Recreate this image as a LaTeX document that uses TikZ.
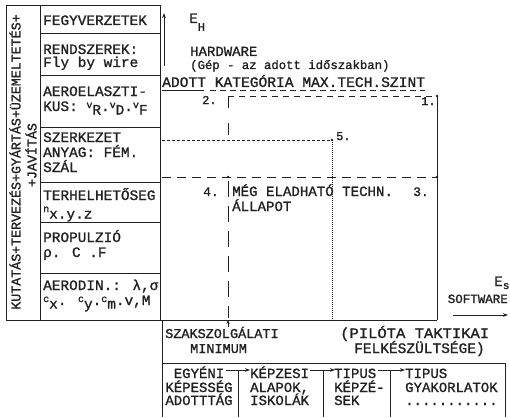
\documentclass[tikz,border=0pt]{standalone}
\usepackage{fontspec}
\usepackage{graphicx}
\usetikzlibrary{arrows.meta}
\setmainfont{Liberation Mono}[FakeBold=1.2]
\definecolor{ink}{gray}{0.13}
\newcommand\fsz[1]{\fontsize{#1}{#1}\selectfont}
\newcommand\hi[1]{\raisebox{3pt}{\fontsize{10}{10}\selectfont #1}}
\newcommand\lo[1]{\raisebox{-3.5pt}{#1}}
\begin{document}
\begin{tikzpicture}[x=1pt,y=-1pt,
  ln/.style={draw=ink,line width=0.8pt},
  tx/.style={anchor=base west,inner sep=0pt,text=ink,font=\fsz{14.4}},
  txc/.style={anchor=base,inner sep=0pt,text=ink,font=\fsz{14}},
  vtx/.style={rotate=90,inner sep=0pt,text=ink,font=\fsz{13.3}},
  dotpt/.style={circle,fill=ink,inner sep=0pt,minimum size=2.6pt},
  tip/.style={-{Stealth[length=5pt,width=3.6pt]}}]
\useasboundingbox (0,0) rectangle (510,417);
\fill[white] (0,0) rectangle (510,417);
% ---------- left box stack ----------
\coordinate (bTL) at (6,5);
\coordinate (bBR) at (160,320);
\draw[ln] (bTL) rectangle (bBR);
\coordinate (cT) at (40,5); \coordinate (cB) at (40,320);
\draw[ln] (cT) -- (cB);
\foreach \y [count=\i] in {33,75,127,182,222,273}{
  \coordinate (hl\i) at (40,\y); \coordinate (hr\i) at (160,\y);
  \draw[ln] (hl\i) -- (hr\i);}
\node[vtx] (vt1) at (15,162) {KUTATÁS+TERVEZÉS+GYÁRTÁS+ÜZEMELTETÉS+};
\node[vtx] (vt2) at (31,155) {+JAVÍTÁS};
\node[tx] (l1)  at (43,25)  {FEGYVERZETEK};
\node[tx] (l2a) at (43,54)  {RENDSZEREK:};
\node[tx] (l2b) at (43,67)  {Fly by wire};
\node[tx] (l3a) at (43,96)  {AEROELASZTI-};
\node[tx] (l3b) at (43,111) {KUS: \hi{v}\lo{R}.\hi{v}\lo{D}.\hi{v}\lo{F}};
\node[tx] (l4a) at (43,142) {SZERKEZET};
\node[tx] (l4b) at (43,157) {ANYAG:  FÉM.};
\node[tx] (l4c) at (43,172) {SZÁL};
\node[tx] (l5a) at (43,200) {TERHELHETŐSEG};
\node[tx] (l5b) at (43,215) {\hi{n}\lo{x.y.z}};
\node[tx] (l6a) at (43,242) {PROPULZIÓ};
\node[tx] (l6b) at (43,257) {ρ. C .F};
\node[tx] (l7a) at (43,290) {AERODIN.: λ,σ};
\node[tx] (l7b) at (43,305) {\hi{c}\lo{x}. \hi{c}\lo{y}.\hi{c}\lo{m}.v,M};
% ---------- axes ----------
\coordinate (ehA) at (164,66); \coordinate (ehB) at (164,13);
\draw[ln,tip] (ehA) -- (ehB);
\node[tx] (eH) at (189,23) {E\raisebox{-8pt}{\fsz{12}H}};
\node[tx,font=\fsz{14}] (hw) at (190,56) {HARDWARE};
\node[tx,font=\fsz{12.3}] (gep) at (190,69) {(Gép - az adott időszakban)};
\node[tx,font=\fsz{14.6}] (title) at (162,87) {ADOTT KATEGÓRIA MAX.TECH.SZINT};
\coordinate (u0) at (162,90); \coordinate (u1) at (204,90);
\coordinate (u2) at (210,90); \coordinate (u3) at (425,90);
\draw[ln] (u0) -- (u1);
\draw[ln,dash pattern=on 6pt off 4pt] (u2) -- (u3);
% chart lines
\coordinate (c2) at (228,96); \coordinate (c1) at (437,96);
\coordinate (c2b) at (228,140);
\coordinate (d1a) at (162,140); \coordinate (c5) at (332,140);
\coordinate (d2a) at (162,177); \coordinate (c4) at (228,177); \coordinate (c3) at (437,177);
\coordinate (c4b) at (228,318);
\coordinate (c5b) at (332,320);
\coordinate (bl0) at (160,320); \coordinate (bl1) at (437,320);
\draw[ln,dash pattern=on 6pt off 5pt] (c2) -- (c1);
\draw[ln] (c1) -- (bl1);
\draw[ln,dash pattern=on 12pt off 15pt] (c2) -- (c2b);
\draw[ln,dash pattern=on 3pt off 2pt] (d1a) -- (c5);
\draw[draw=ink,line width=0.5pt,dash pattern=on 1pt off 1pt] (c5) -- (c5b);
\draw[ln,dash pattern=on 9pt off 6pt] (d2a) -- (c3);
\draw[ln,dash pattern=on 16pt off 9pt,dash phase=-4pt] (c4) -- (c4b);
\draw[ln] (bl0) -- (bl1);
\node[dotpt] (p1) at (c1) {};
\node[dotpt] (p5) at (c5) {};
\node[dotpt] (p4) at (c4) {};
\node[dotpt] (p3) at (c3) {};
\node[tx,font=\fsz{12}] (n2) at (202,104) {2.};
\node[tx,font=\fsz{12}] (n1) at (421,105) {1.};
\node[tx,font=\fsz{12}] (n5) at (336,140) {5.};
\node[tx,font=\fsz{13}] (n4) at (203,196) {4.};
\node[tx,font=\fsz{13}] (n3) at (413,196) {3.};
\node[tx,font=\fsz{14.1}] (meg) at (232,196) {MÉG ELADHATÓ TECHN.};
\node[tx,font=\fsz{14.1}] (all) at (232,211) {ÁLLAPOT};
% software axis
\coordinate (esA) at (453,315); \coordinate (esB) at (508,315);
\draw[ln,tip] (esA) -- (esB);
\node[tx] (eS) at (494,286) {E\raisebox{-3pt}{\fsz{11}s}};
\node[anchor=base east,inner sep=0pt,text=ink,font=\fsz{12.5}] (sw) at (508,303) {SOFTWARE};
% ---------- lower area ----------
\coordinate (szA) at (228,327); \coordinate (szB) at (228,320);
\draw[ln,-{Stealth[length=4pt,width=3.4pt]}] (szA) -- (szB);
\coordinate (lf0) at (162,320); \coordinate (lf1) at (162,417);
\coordinate (lt0) at (162,363); \coordinate (lt1) at (505,363);
\coordinate (lr1) at (505,417);
\draw[ln] (lf0) -- (lf1);
\draw[ln] (lt0) -- (lt1) -- (lr1);
\node[tx,font=\fsz{13.5}] (szak) at (165,338) {SZAKSZOLGÁLATI};
\node[tx,font=\fsz{13.5}] (mini) at (190,353) {MINIMUM};
\node[tx,font=\fsz{14.5}] (pil) at (340,338) {\scalebox{1.07}[1]{(PILÓTA TAKTIKAI}};
\node[tx,font=\fsz{14.5}] (felk) at (354,353) {FELKÉSZÜLTSÉGE)};
\foreach \x [count=\i] in {238,323,390}{
  \coordinate (dv\i) at (\x,370); \coordinate (dw\i) at (\x,417);
  \draw[ln] (dv\i) -- (dw\i);}
\coordinate (a1s) at (226,370); \coordinate (a1e) at (250,370);
\coordinate (a2s) at (310,370); \coordinate (a2e) at (335,370);
\coordinate (a3s) at (378,370); \coordinate (a3e) at (405,370);
\draw[ln,tip] (a1s) -- (a1e);
\draw[ln,tip] (a2s) -- (a2e);
\draw[ln,tip] (a3s) -- (a3e);
\node[txc] (k1a) at (199,378) {EGYÉNI};
\node[txc] (k1b) at (199,392) {KÉPESSÉG};
\node[txc] (k1c) at (199,405) {ADOTTTÁG};
\node[tx,font=\fsz{14}] (k2a) at (250,378) {KÉPZESI};
\node[tx,font=\fsz{14}] (k2b) at (250,392) {ALAPOK,};
\node[tx,font=\fsz{14}] (k2c) at (250,405) {ISKOLÁK};
\node[tx,font=\fsz{14}] (k3a) at (334,378) {TIPUS};
\node[tx,font=\fsz{14}] (k3b) at (334,392) {KÉPZÉ-};
\node[tx,font=\fsz{14}] (k3c) at (334,405) {SEK};
\node[tx,font=\fsz{14}] (k4a) at (405,378) {TIPUS};
\node[tx,font=\fsz{14}] (k4b) at (405,392) {GYAKORLATOK};
\node[tx,font=\fsz{14}] (k4c) at (405,405) {...........};
\end{tikzpicture}
\end{document}
